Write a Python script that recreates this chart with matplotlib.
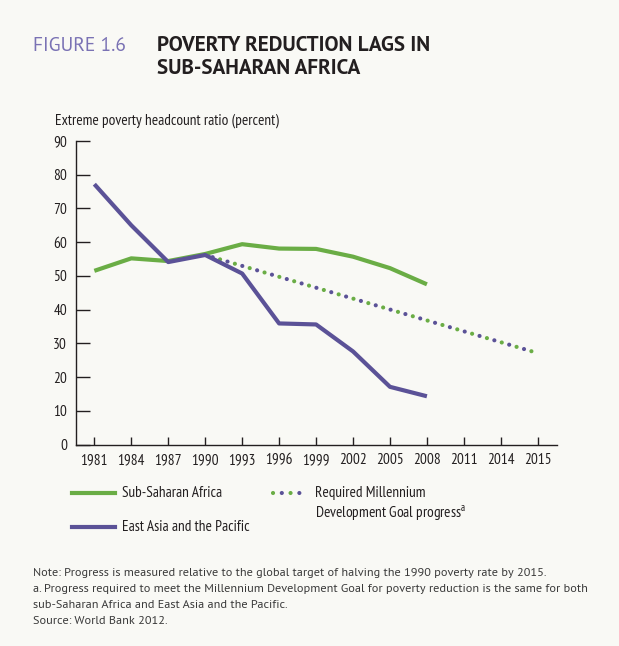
import matplotlib
matplotlib.use("Agg")
import matplotlib.pyplot as plt
from matplotlib.lines import Line2D
from matplotlib import font_manager

years = ['1981', '1984', '1987', '1990', '1993', '1996', '1999', '2002', '2005', '2008', '2011', '2014', '2015']
ssa = [51.5, 55.2, 54.4, 56.5, 59.4, 58.1, 58.0, 55.7, 52.3, 47.5]
eap = [77.2, 65.0, 54.1, 56.2, 50.7, 35.9, 35.6, 27.6, 17.1, 14.3]
mdg_years = ['1990', '2015']
mdg = [56.2, 27.1]

green = '#6aad45'
purple = '#5b5297'
bg = '#f9f9f5'
ink = '#231f20'

fonts = [(f.name, f.weight, f.style) for f in font_manager.fontManager.ttflist]


def pick(cands):
    # want a family that has a real regular and bold face
    for c in cands:
        w = [fw for n, fw, st in fonts if n == c and st == 'normal']
        if 400 in w and 700 in w:
            return c
    return 'DejaVu Sans'


narrow = pick(['PT Sans Narrow', 'Fira Sans Condensed', 'Roboto Condensed', 'Liberation Sans Narrow'])
myriad = pick(['Source Sans Pro', 'PT Sans', 'Fira Sans', 'Liberation Sans'])
plt.rcParams['font.family'] = [narrow, 'DejaVu Sans']
plt.rcParams['mathtext.fontset'] = 'custom'
plt.rcParams['mathtext.rm'] = narrow

fig = plt.figure(figsize=(6.19, 6.46), dpi=100, facecolor=bg)
ax = fig.add_axes([75.5 / 619, 1 - 444.5 / 646, (557 - 75.5) / 619, (444.5 - 141) / 646], facecolor=bg)

xi = {y: i for i, y in enumerate(years)}
ax.plot(range(len(ssa)), ssa, color=green, lw=3, solid_capstyle='butt', zorder=3)
ax.plot(range(len(eap)), eap, color=purple, lw=3, solid_capstyle='butt', zorder=3)
mx = [xi[y] for y in mdg_years]
ax.plot(mx, mdg, color=green, lw=3, dash_capstyle='round', linestyle=(0, (0.01, 3.7)), zorder=2)
ax.plot(mx, mdg, color=purple, lw=3, dash_capstyle='round', linestyle=(1.85, (0.01, 3.7)), zorder=2)

ax.set_ylim(0, 90)
ax.set_xlim(-0.51, 12.52)
ax.set_yticks(range(0, 100, 10))
ax.set_xticks(range(len(years)))
ax.set_xticklabels(years)
for s in ['top', 'right']:
    ax.spines[s].set_visible(False)
for s in ['left', 'bottom']:
    ax.spines[s].set_linewidth(1.0)
    ax.spines[s].set_color(ink)
ax.tick_params(axis='y', direction='in', length=10, width=1, labelsize=11, pad=6, colors=ink)
ax.tick_params(axis='x', direction='in', length=6, width=1, labelsize=11, pad=6, colors=ink)

fig.text(33 / 619, 1 - 51 / 646, 'FIGURE 1.6', fontsize=14, color='#7a72b4', va='baseline', family=myriad)
fig.text(157 / 619, 1 - 51 / 646, 'POVERTY REDUCTION LAGS IN', fontsize=15.2, fontweight='bold',
         color=ink, va='baseline', family=myriad)
fig.text(157 / 619, 1 - 74 / 646, 'SUB-SAHARAN AFRICA', fontsize=15.2, fontweight='bold',
         color=ink, va='baseline', family=myriad)
fig.text(55 / 619, 1 - 125 / 646, 'Extreme poverty headcount ratio (percent)', fontsize=11, color=ink,
         va='baseline')

# legend
fig.add_artist(Line2D([72 / 619, 115 / 619], [1 - 493 / 646] * 2, color=green, lw=3))
fig.add_artist(Line2D([72 / 619, 115 / 619], [1 - 527 / 646] * 2, color=purple, lw=3))
fig.add_artist(Line2D([273 / 619, 306 / 619], [1 - 493 / 646] * 2, color=green, lw=3,
                      dash_capstyle='round', linestyle=(0, (0.01, 4.2))))
fig.add_artist(Line2D([273 / 619, 306 / 619], [1 - 493 / 646] * 2, color=purple, lw=3,
                      dash_capstyle='round', linestyle=(2.1, (0.01, 4.2))))
fig.text(122 / 619, 1 - 493 / 646, 'Sub-Saharan Africa', fontsize=11, va='center', color=ink)
fig.text(122 / 619, 1 - 527 / 646, 'East Asia and the Pacific', fontsize=11, va='center', color=ink)
fig.text(315 / 619, 1 - 493 / 646, 'Required Millennium', fontsize=11, va='center', color=ink)
fig.text(315 / 619, 1 - 513 / 646, r'Development Goal progress$^{\mathrm{a}}$', fontsize=11, va='center',
         color=ink)

notes = ['Note: Progress is measured relative to the global target of halving the 1990 poverty rate by 2015.',
         'a. Progress required to meet the Millennium Development Goal for poverty reduction is the same for both',
         'sub-Saharan Africa and East Asia and the Pacific.',
         'Source: World Bank 2012.']
for k, line in enumerate(notes):
    fig.text(33 / 619, 1 - (575.5 + 16.2 * k) / 646, line, fontsize=8.8, color='#3a3a3a',
             va='baseline', family=myriad)

fig.savefig('out.png', dpi=100, facecolor=bg)
